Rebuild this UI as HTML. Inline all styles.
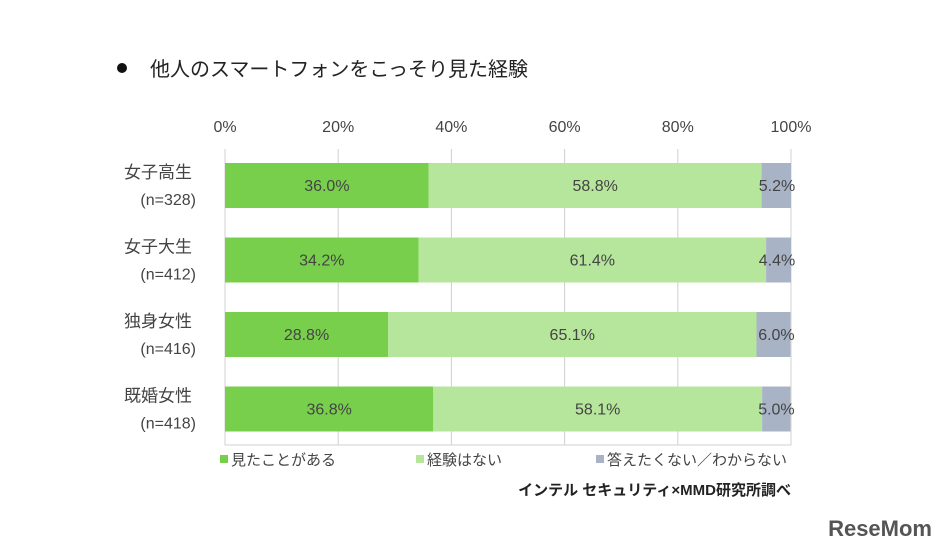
<!DOCTYPE html>
<html><head><meta charset="utf-8">
<style>
body{margin:0;background:#fff;}
svg{display:block;font-family:"Liberation Sans","Noto Sans CJK JP",sans-serif;}
</style></head>
<body>
<svg id="chart" width="950" height="550" viewBox="0 0 950 550">
<circle cx="122" cy="68" r="5" fill="#111"/>
<text x="150" y="76" font-size="20" fill="#222">他人のスマートフォンをこっそり見た経験</text>
<g id="grid"></g>
<g id="bars"></g>
<g id="legend" font-size="15" fill="#444">
<rect x="220" y="455" width="8" height="8" fill="#78cf4c"/>
<text x="231" y="465">見たことがある</text>
<rect x="416" y="455" width="8" height="8" fill="#b6e69b"/>
<text x="427" y="465">経験はない</text>
<rect x="596" y="455" width="8" height="8" fill="#a8b3c6"/>
<text x="607" y="465">答えたくない／わからない</text>
</g>
<text x="791" y="495" font-size="15" font-weight="bold" fill="#222" text-anchor="end">インテル セキュリティ×MMD研究所調べ</text>
<text x="932" y="536" font-size="22" font-weight="bold" fill="#555" text-anchor="end">ReseMom</text>
</svg>
<script>
const categories=["女子高生","女子大生","独身女性","既婚女性"];
const sampleSizes=["(n=328)","(n=412)","(n=416)","(n=418)"];
const seenValues=[36.0,34.2,28.8,36.8];
const neverValues=[58.8,61.4,65.1,58.1];
const unknownValues=[5.2,4.4,6.0,5.0];
const tickValues=[0,20,40,60,80,100];

const NS="http://www.w3.org/2000/svg";
const x0=225,x1=791,gridTop=149,gridBottom=445,rowTop=163,rowStep=74.5,barH=45;
const xScale=v=>x0+(x1-x0)*v/100;
const yScale=i=>rowTop+i*rowStep;
function mk(tag,attrs,parent){const e=document.createElementNS(NS,tag);for(const k in attrs)e.setAttribute(k,attrs[k]);parent.appendChild(e);return e;}
const grid=document.getElementById('grid');
const bars=document.getElementById('bars');
tickValues.forEach(t=>{
  const l=mk('line',{x1:xScale(t),x2:xScale(t),y1:gridTop,y2:gridBottom,stroke:'#d0d0d0','stroke-width':1},grid);
  
  
  const tx=mk('text',{x:xScale(t),y:132,'font-size':16,fill:'#444','text-anchor':'middle'},grid);
  tx.textContent=t+'%';
  
  
});
const bl=mk('line',{x1:x0,x2:x1,y1:gridBottom,y2:gridBottom,stroke:'#d0d0d0'},grid);


const series=[[seenValues,'#78cf4c','seen'],[neverValues,'#b6e69b','never'],[unknownValues,'#a8b3c6','unknown']];
categories.forEach((c,i)=>{
  const y=yScale(i);
  const l1=mk('text',{x:192,y:y+15,'font-size':17,fill:'#444','text-anchor':'end'},bars);
  l1.textContent=c;
  
  
  const l2=mk('text',{x:196,y:y+42,'font-size':16,fill:'#444','text-anchor':'end'},bars);
  l2.textContent=sampleSizes[i];
  
  
  let acc=0;
  series.forEach(([vals,col,nm],s)=>{
    const v=vals[i];
    const r=mk('rect',{x:xScale(acc),y:y,width:xScale(acc+v)-xScale(acc),height:barH,fill:col},bars);
    
    
    const cx=s===2?xScale(acc+v)-14:(xScale(acc)+xScale(acc+v))/2;
    const t=mk('text',{x:cx,y:y+28,'font-size':16,fill:'#444','text-anchor':'middle'},bars);
    t.textContent=v.toFixed(1)+'%';
    
    
    acc+=v;
  });
});
</script>
</body></html>
